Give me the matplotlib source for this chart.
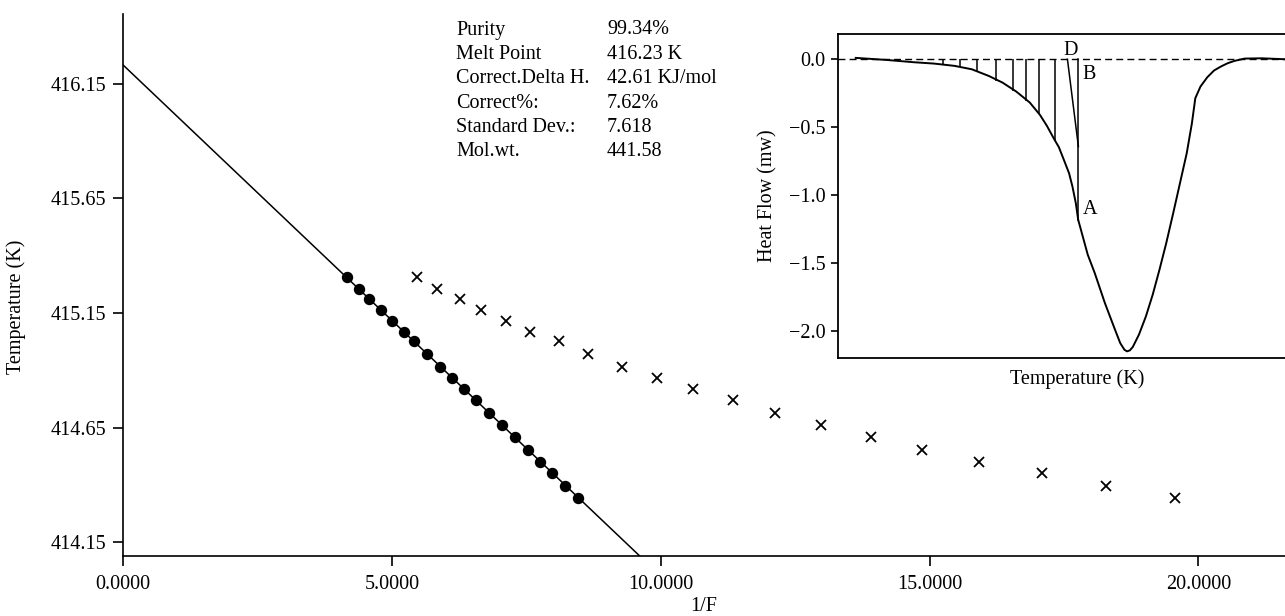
import matplotlib
matplotlib.use('Agg')
import matplotlib.pyplot as plt
from matplotlib.ticker import FormatStrFormatter, FuncFormatter

plt.rcParams['font.family'] = ['Liberation Serif', 'DejaVu Serif']
plt.rcParams['font.size'] = 14.5

# datos de la grafica principal (1/F frente a temperatura)
temp = [415.308, 415.253, 415.209, 415.163, 415.115, 415.068, 415.027, 414.972,
        414.915, 414.866, 414.818, 414.769, 414.713, 414.661, 414.607, 414.553,
        414.500, 414.450, 414.396, 414.342]
inv_f_corr = [4.171, 4.389, 4.581, 4.793, 5.003, 5.232, 5.418, 5.648, 5.890, 6.124,
              6.336, 6.565, 6.812, 7.054, 7.290, 7.532, 7.761, 7.984, 8.226, 8.456]
inv_f_raw = [5.473, 5.845, 6.262, 6.658, 7.117, 7.575, 8.114, 8.654, 9.275, 9.927,
             10.603, 11.348, 12.130, 12.983, 13.909, 14.859, 15.923, 17.086, 18.272, 19.563]
fit_x = [0.0, 9.61]
fit_t = [416.232, 414.09]

y_ticks = [414.15, 414.65, 415.15, 415.65, 416.15]
x_ticks = [0, 5, 10, 15, 20]

tabla_nombres = ['Purity', 'Melt Point', 'Correct.Delta H.', 'Correct%:', 'Standard Dev.:', 'Mol.wt.']
tabla_valores = ['99.34%', '416.23 K', '42.61 KJ/mol', '7.62%', '7.618', '441.58']

# datos del termograma (inset)
dsc_t = [405.89, 407.43, 408.81, 409.83, 410.86, 411.72, 412.57, 413.26, 413.95, 414.63,
         415.14, 415.49, 415.83, 416.09, 416.34, 416.60, 416.77, 416.94, 417.06, 417.29,
         417.54, 417.89, 418.40, 418.91, 419.17, 419.38, 419.51, 419.65, 419.80, 420.11,
         420.46, 420.80, 421.14, 421.48, 421.83, 422.17, 422.51, 422.77, 422.94, 423.20,
         423.54, 423.88, 424.22, 424.57, 424.91, 425.42, 426.28, 427.45, 429.0]
dsc_q = [0.010, -0.005, -0.022, -0.032, -0.049, -0.074, -0.123, -0.172, -0.238, -0.319,
         -0.410, -0.491, -0.582, -0.648, -0.741, -0.839, -0.937, -1.060, -1.183, -1.306,
         -1.440, -1.575, -1.796, -1.993, -2.091, -2.140, -2.152, -2.145, -2.120, -2.029,
         -1.894, -1.735, -1.551, -1.355, -1.134, -0.913, -0.692, -0.471, -0.287, -0.201,
         -0.133, -0.083, -0.054, -0.029, -0.012, 0.005, 0.007, 0.0, 0.0]
rayas_t = [410.26, 411.12, 411.98, 412.95, 413.78, 414.43, 415.11, 415.89]
rayas_q = [-0.040, -0.060, -0.095, -0.160, -0.235, -0.305, -0.405, -0.600]
linea_d_t = [416.52, 417.07]
linea_d_q = [0.0, -0.643]
linea_ba_t = [417.07, 417.07]
linea_ba_q = [0.0, -1.183]

W, H = 1285, 616
fig = plt.figure(figsize=(W / 100, H / 100), dpi=100)

ax = fig.add_axes([123 / W, 1 - 556 / H, (W - 123) / W, (556 - 14) / H])
ax.plot(fit_x, fit_t, color='black', lw=1.1, zorder=2)
ax.plot(inv_f_corr, temp, 'o', color='black', ms=7.2, zorder=3)
ax.plot(inv_f_raw, temp, 'x', color='black', ms=6.5, mew=1.3, zorder=3)
ax.set_xlim(0, 21.61)
ax.set_ylim(414.09, 416.454)
ax.set_xticks(x_ticks)
ax.set_yticks(y_ticks)
ax.xaxis.set_major_formatter(FormatStrFormatter('%.4f'))
ax.yaxis.set_major_formatter(FormatStrFormatter('%.2f'))
for s in ['top', 'right']:
    ax.spines[s].set_visible(False)
for s in ['left', 'bottom']:
    ax.spines[s].set_linewidth(1.2)
ax.tick_params(direction='out', length=7, width=1.2, pad=5)
ax.tick_params(axis='x', pad=7)
ax.set_xlabel('1/F')
ax.xaxis.set_label_coords(0.5, -0.076)
ax.set_ylabel('Temperature (K)')
ax.yaxis.set_label_coords(-0.0835, 0.459)

# tabla de resultados
for i in range(len(tabla_nombres)):
    y = 1 - (30 + i * 24.4) / H
    fig.text(456 / W, y, tabla_nombres[i], ha='left', va='center')
    fig.text(607 / W, y, tabla_valores[i], ha='left', va='center')

# inset
ins = fig.add_axes([838 / W, 1 - 358 / H, (1316 - 838) / W, (358 - 34) / H])
ins.plot(dsc_t, dsc_q, color='black', lw=1.4, zorder=3)
ins.axhline(0.0, color='black', lw=1.0, ls=(0, (5, 3)), zorder=2)
ins.vlines(rayas_t, rayas_q, 0.0, color='black', lw=1.1)
ins.plot(linea_d_t, linea_d_q, color='black', lw=1.1)
ins.plot(linea_ba_t, linea_ba_q, color='black', lw=1.1)
ins.text(416.69, 0.063, 'D', ha='center', va='center')
ins.text(417.60, -0.116, 'B', ha='center', va='center')
ins.text(417.67, -1.11, 'A', ha='center', va='center')
ins.set_xlim(405.0, 429.0)
ins.set_ylim(-2.201, 0.186)
ins.set_xticks([])
ins.set_yticks([0.0, -0.5, -1.0, -1.5, -2.0])
ins.yaxis.set_major_formatter(FuncFormatter(lambda v, p: ('%.1f' % v).replace('-', '\u2212')))
ins.tick_params(direction='out', length=5, width=1.2, pad=4)
for s in ins.spines.values():
    s.set_linewidth(1.3)
ins.set_xlabel('Temperature (K)', labelpad=8)
ins.set_ylabel('Heat Flow (mw)', labelpad=8)

fig.savefig('out.png', dpi=100)
